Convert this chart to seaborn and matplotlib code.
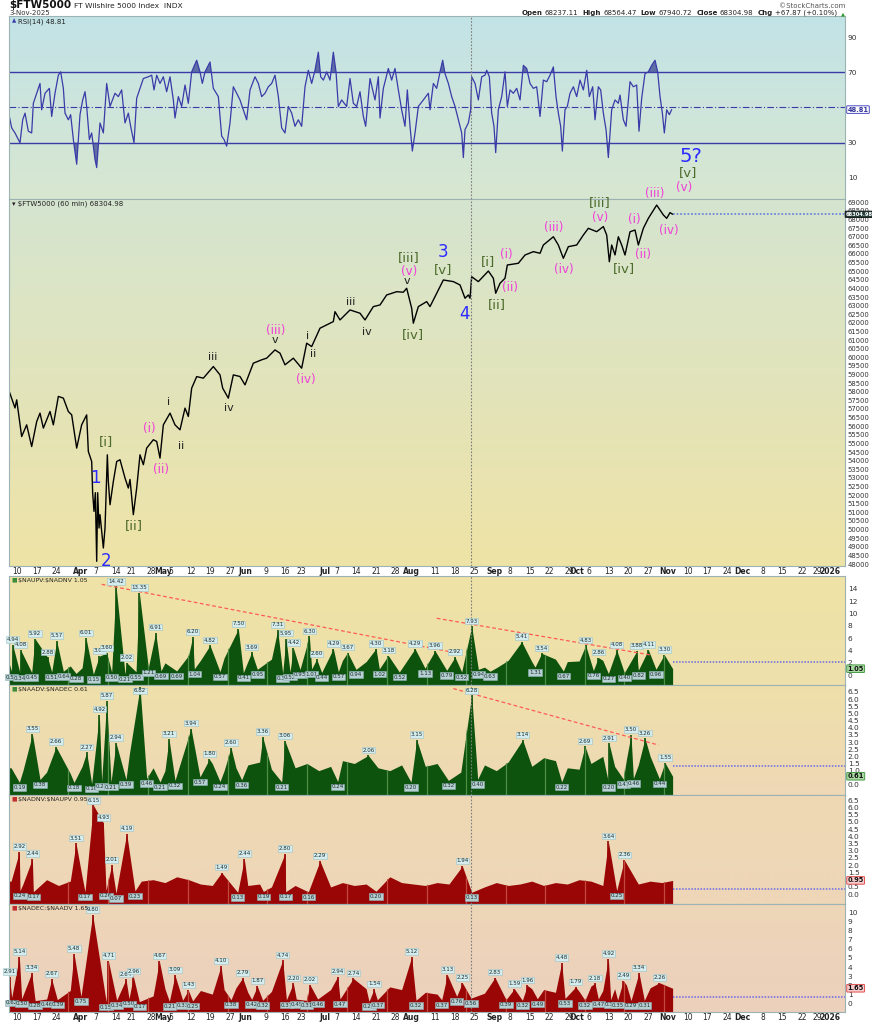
import numpy as np
import pandas as pd
import matplotlib
matplotlib.use("Agg")
import matplotlib.pyplot as plt
from matplotlib.colors import LinearSegmentedColormap
import matplotlib.transforms as mtransforms
import seaborn as sns

sns.set_theme(style="white")
plt.rcParams["font.family"] = ["DejaVu Sans"]

# ------------------------------------------------------------------ data
# x values are trading-session indices (0 = 10-Mar-2025)
price_day = [-1.94,-0.51,-0.08,1.18,2.45,3.72,4.99,5.83,6.68,8.37,
             9.21,10.48,11.75,13.01,13.86,15.13,16.39,17.66,18.08,18.93,
             19.18,19.52,19.86,20.2,20.45,20.79,21.04,21.89,22.31,22.9,
             23.15,23.58,24.42,25.27,26.11,27.38,28.22,28.65,29.49,30.34,
             31.18,32.03,32.87,34.56,35.41,36.25,37.1,38.79,40.05,41.32,
             42.59,43.43,44.28,45.55,47.24,49.77,51.46,52.14,53.57,54.84,
             56.53,57.8,59.91,62.02,63.29,65.4,66.67,67.94,70.05,72.16,
             73.43,74.7,76.81,80.19,80.61,81.88,84.42,86.95,88.22,90.33,
             92.02,93.71,96.25,97.94,98.78,100.05,100.47,101.74,103.85,104.7,
             106.39,108.08,110.62,112.31,113.57,114.42,114.84,115.26,116.95,119.49,
             120.76,121.35,122.45,123.71,124.3,127.09,128.78,130.9,132.59,133.43,
             135.97,137.23,138.5,139.77,141.88,143.57,144.84,146.95,148.64,149.49,
             150.16,150.75,151.6,152.44,153.29,154.13,155.4,156.67,157.51,158.78,
             160.05,162.16,163.01,163.85,164.7,165.54,166.22]
price_val = [58000,57060,57530,55400,56080,54820,56270,56760,55890,56855,
             56080,57730,57630,56855,56660,54730,56080,56660,54535,53950,
             52120,51055,52140,48155,52140,50090,50865,48930,50090,54340,
             52795,51440,52795,53950,54055,52990,52410,52910,50865,52410,
             54340,53765,54730,55215,55115,54150,56080,56760,56080,55790,
             57050,56565,58210,58880,58790,59465,58980,58210,57630,58980,
             58885,58400,59660,59855,59950,60430,60240,59565,59950,59370,
             60820,60625,61690,62075,62650,62170,62750,62560,62170,62945,
             63040,63620,63810,63780,64010,62850,61980,62945,63235,62945,
             63720,64490,64395,64200,63430,63620,63430,64680,64395,65010,
             64590,63720,64300,64590,65360,65460,65940,66135,66040,66520,
             67000,66520,65750,66425,66520,67100,67490,67295,67590,67100,
             65550,66520,65945,67000,66520,65940,67290,67390,66520,67490,
             68070,68840,68550,68265,68070,68400,68305]
price_close = 68304.98

rsi_day = [-1.94,-1.35,-0.51,0.76,1.44,2.03,2.87,3.72,4.14,4.99,
           5.83,6.25,7.10,8.20,8.79,9.63,10.48,11.07,11.75,12.17,
           13.01,13.60,14.28,15.13,15.97,16.65,17.24,17.66,18.34,18.93,
           19.77,20.20,21.04,21.89,22.73,23.58,24.84,25.69,26.53,27.38,
           28.22,28.81,29.66,30.34,31.18,32.03,33.29,34.14,34.73,35.41,
           36.25,37.10,37.94,38.79,39.63,40.05,40.90,41.74,42.59,43.43,
           44.28,45.55,46.39,46.98,47.66,48.93,49.77,51.04,51.88,52.47,
           53.15,54.00,54.84,55.69,56.53,57.38,58.22,59.07,60.33,61.18,
           62.02,62.87,63.71,64.56,65.40,66.25,67.09,67.94,68.78,69.63,
           70.47,71.32,72.16,73.01,73.85,74.70,75.54,76.39,76.98,77.66,
           78.50,79.35,80.19,80.87,81.46,82.30,83.57,84.42,85.26,86.11,
           86.95,87.80,88.39,89.49,90.75,91.60,92.02,92.87,94.13,94.98,
           95.82,96.67,97.51,98.36,98.95,99.63,100.22,100.90,101.74,103.01,
           104.27,
           104.70,105.55,106.39,107.24,107.91,108.50,109.35,110.19,111.04,111.88,
           112.73,113.15,113.57,114.42,115.01,115.26,116.11,116.95,117.80,118.64,
           119.07,119.74,120.33,120.92,121.35,122.02,122.87,123.71,124.30,124.98,
           125.83,126.67,127.52,128.36,129.21,130.05,130.90,131.74,132.59,133.43,
           134.28,135.12,135.97,136.64,137.23,137.82,138.25,138.92,139.51,140.19,
           141.04,141.88,142.73,143.57,144.42,145.09,145.94,146.53,147.37,147.96,
           148.64,149.32,149.91,150.75,151.60,152.44,152.87,153.71,154.39,155.40,
           156.25,157.09,157.68,158.36,159.20,160.05,160.89,161.74,162.41,163.01,
           163.60,164.10,164.70,165.37,165.96]
rsi_val = [44.9,38.4,35.5,29.9,43,46.8,36.5,35.5,52.4,58.1,
           63.7,48.7,58.1,60.9,44.9,58.1,68.4,70.3,60.9,46.8,
           43,45.9,31.8,17.7,45.9,54.3,59,50.6,31.8,35.5,
           20.5,15.8,41.2,35.5,63.7,50.6,58.1,56.2,60,41.2,
           46.8,39.3,29.9,55.3,60.9,66.5,67.5,68.4,60,68.4,
           63.7,67.5,59,67.5,54.3,44,56.2,50.6,62.8,52.4,
           70.3,76.9,70.3,63.7,70.3,75.9,60.9,56.2,33.7,31.8,
           28,41.2,61.8,58.1,54.3,48.7,43,60,67.5,63.7,
           56.2,58.1,61.8,63.7,68.4,56.2,38.4,35.5,50.6,46.8,
           39.3,43,39.3,61.8,71.2,63.7,71.2,81.5,67.5,65.6,
           70.3,65.6,81.5,70.3,50.6,54.3,50.6,66.5,52.4,50.6,
           59,44.9,39.3,66.5,54.3,67.5,44,60.9,72.2,65.6,
           72.2,60,48.7,39.3,60,39.3,25.2,35.5,50.6,54.3,
           58.1,
           48.7,63.7,60.9,70.3,76.9,69.3,63.7,56.2,50.6,43,
           35.5,21.5,37.4,41.2,48.7,67.5,63.7,54.3,67.5,68.4,
           71.2,67.5,46.8,39.3,24.3,48.7,56.2,70.3,50.6,60,
           58.1,60.9,54.3,74,72.2,63.7,60.9,61.8,44.9,65.6,
           64.7,68.4,73.1,56.2,46.8,39.3,25.2,48.7,50.6,58.1,
           61.8,56.2,65.6,60,71.2,56.2,61.8,43,61.8,60,
           46.8,37.4,21.5,48.7,54.3,52.4,57.1,43,39.3,64.7,
           61.8,62.8,36.5,55.3,69.3,70.3,74,76.9,70.3,56.2,
           46.8,35.5,48.7,45.9,48.81]
rsi_last = 48.81

# --- breadth panels: labelled peaks / troughs + background bar level every 3 sessions
h1_peak_day = [-1.1,0.93,4.56,7.77,10.06,17.49,20.87,22.73,25.1,27.8,31.01,35.15,44.53,48.93,56.11,
               59.49,66.08,68.19,70.05,74.11,75.97,80.19,83.82,91.01,94.13,100.9,105.97,111.04,115.26,
               127.94,133.01,144.16,147.37,152.02,157.09,160.05,164.1]
h1_peak_val = [4.94,4.08,5.92,2.88,5.57,6.01,3.08,3.60,14.42,2.02,13.35,6.91,6.20,4.82,7.50,
               3.69,7.31,5.95,4.42,6.30,2.60,4.29,3.67,4.30,3.18,4.29,3.96,2.92,7.93,
               5.41,3.54,4.83,2.86,4.08,3.88,4.11,3.30]
h1_trough_day = [-1.35,0.76,3.72,8.79,11.75,14.96,19.35,24.0,27.38,30.17,33.29,36.5,40.48,44.95,51.46,
                 57.38,60.92,67.35,69.21,71.74,74.7,77.23,81.46,85.94,91.85,96.92,103.43,108.93,112.73,
                 116.95,119.91,131.32,138.5,146.11,149.91,153.96,157.51,161.99]
h1_trough_val = [0.55,0.34,0.45,0.51,0.64,0.28,0.15,0.50,0.21,0.55,1.21,0.69,0.69,1.04,0.57,
                 0.41,0.95,0.31,0.52,0.93,1.01,0.44,0.57,0.94,1.02,0.52,1.13,0.79,0.52,
                 0.94,0.63,1.31,0.67,0.76,0.27,0.40,0.82,0.96]
h1_bg = [2.0,1.8,2.2,1.6,2.4,1.5,1.2,1.8,
         1.4,2.2,2.8,2.5,3.0,2.0,2.6,3.2,
         2.4,2.2,2.8,3.0,2.2,3.4,2.6,2.9,
         3.2,2.2,2.5,2.0,2.4,1.8,2.2,2.6,
         1.9,2.3,2.1,2.0,2.4,1.8,1.4,1.6,
         1.3,1.2,2.4,2.8,2.2,1.8,2.6,2.2,
         2.3,2.0,2.4,1.8,1.6,2.2,2.6,2.0]

h2_peak_day = [3.89,9.89,17.66,20.87,22.73,25.1,31.18,38.53,44.11,48.76,54.25,62.28,67.94,89.06,101.32,
               115.26,128.19,143.99,150.08,155.65,159.2,164.27]
h2_peak_val = [3.55,2.66,2.27,4.92,5.87,2.94,6.82,3.21,3.94,1.80,2.60,3.36,3.06,2.06,3.15,
               6.28,3.14,2.69,2.91,3.50,3.26,1.55]
h2_trough_day = [0.59,5.83,14.45,18.93,21.46,23.83,27.63,32.87,36.25,40.05,46.39,51.46,56.95,67.09,81.29,
                 99.88,109.35,116.78,138.08,149.91,153.71,156.25,162.84]
h2_trough_val = [0.19,0.38,0.18,0.10,0.27,0.21,0.39,0.46,0.21,0.32,0.57,0.24,0.36,0.21,0.24,
                 0.20,0.32,0.40,0.22,0.20,0.41,0.46,0.44]
h2_bg = [1.2,1.0,1.4,0.9,1.1,0.8,1.3,1.0,
         1.5,1.8,2.2,1.5,1.2,1.0,1.4,1.1,
         1.3,1.5,1.0,1.2,1.4,1.6,1.1,1.3,
         1.2,1.5,1.0,1.3,1.7,1.5,1.8,1.2,
         1.0,1.4,1.1,1.3,1.5,1.0,0.9,1.2,
         1.4,1.0,1.6,1.5,1.3,1.9,1.7,1.2,
         1.1,1.5,2.0,1.3,1.8,1.4,2.0,1.3]

h3_peak_day = [0.59,3.89,14.96,19.35,21.89,24.0,27.8,51.88,57.63,67.94,76.81,112.9,149.91,153.96]
h3_peak_val = [2.92,2.44,3.51,6.15,4.93,2.01,4.19,1.49,2.44,2.80,2.29,1.94,3.64,2.36]
h3_trough_day = [0.76,4.14,17.24,22.56,25.1,29.91,55.94,62.45,68.11,73.85,91.01,115.26,152.02]
h3_trough_val = [0.24,0.17,0.17,0.26,0.07,0.23,0.13,0.19,0.17,0.16,0.20,0.13,0.25]
h3_bg = [0.9,0.7,0.8,1.0,0.6,0.9,1.2,1.4,
         1.0,0.8,1.1,0.9,1.0,0.8,1.2,1.0,
         0.7,0.6,0.8,0.9,0.6,0.7,0.5,0.8,
         0.6,0.9,0.7,0.5,0.8,0.6,0.7,0.5,
         1.2,0.8,0.7,0.6,0.8,0.7,0.6,0.9,
         0.5,0.8,0.6,0.7,0.9,0.6,0.8,0.7,
         1.0,0.9,0.6,0.7,0.8,0.7,0.9,0.8]

h4_peak_day = [-1.9,0.59,3.72,8.79,14.45,19.18,23.15,27.63,29.49,36.08,40.05,43.43,51.71,57.21,60.92,
               67.35,70.05,74.28,81.29,85.26,90.5,100.05,109.09,112.9,121.18,126.08,129.37,138.08,141.63,
               146.53,149.91,153.71,157.68,162.84]
h4_peak_val = [2.91,5.14,3.34,2.67,5.48,9.80,4.71,2.64,2.96,4.67,3.09,1.43,4.10,2.79,1.87,
               4.74,2.20,2.02,2.94,2.74,1.54,5.12,3.13,2.25,2.83,1.59,1.96,4.48,1.79,
               2.18,4.92,2.49,3.34,2.26]
h4_trough_day = [-1.35,1.18,4.6,7.52,10.22,16.22,22.6,25.27,28.4,31.01,38.62,42.0,44.53,54.25,59.49,
                 62.28,68.3,70.8,73.4,76.22,81.88,89.23,91.35,101.15,107.66,111.46,115.09,123.97,128.11,
                 131.91,138.92,143.99,147.37,150.5,152.27,155.65,159.03]
h4_trough_val = [0.62,0.50,0.28,0.46,0.39,0.75,0.15,0.34,0.50,0.17,0.21,0.33,0.25,0.38,0.42,
                 0.32,0.37,0.45,0.31,0.46,0.47,0.20,0.37,0.32,0.37,0.76,0.56,0.39,0.32,
                 0.49,0.53,0.32,0.47,0.39,0.35,0.29,0.31]
h4_bg = [1.5,1.2,1.8,1.0,1.6,1.4,2.0,2.5,
         1.8,1.5,1.2,1.0,0.8,1.6,1.2,1.8,
         1.4,1.0,1.5,1.7,1.2,1.6,1.3,1.8,
         1.1,1.4,1.2,1.5,1.0,1.3,1.6,1.2,
         1.8,1.5,1.4,1.2,1.0,1.5,1.3,1.6,
         1.1,1.4,1.7,1.2,1.6,1.5,1.2,1.8,
         1.3,1.9,1.4,1.6,2.0,1.5,1.7,1.6]

panel_names = [r"\$NAUPV:\$NADNV", r"\$NAADV:\$NADEC", r"\$NADNV:\$NAUPV", r"\$NADEC:\$NAADV"]
panel_last = [1.05, 0.61, 0.95, 1.65]
panel_ref = [2.2, 1.30, 0.39, 0.65]

trend1a_day, trend1a_val = [21.47, 109.8], [14.75, 3.8]
trend1b_day, trend1b_val = [106.4, 160.5], [9.24, 3.29]
trend2_day, trend2_val = [110.6, 162.6], [6.73, 2.79]

grid_days = [13.0, 23.15, 33.3, 43.4, 53.6, 63.3, 73.4, 83.6, 93.7, 103.9,
             113.8, 124.0, 133.9, 144.0, 154.0, 164.1]
marker_day = 115.1

wave_text = ["1","2","[i]","[ii]","(i)","(ii)","i","ii","iii","iv",
             "(iii)","v","(iv)","i","ii","iii","iv","[iii]","(v)","v",
             "[iv]","3","[v]","4","[i]","(i)","(ii)","[ii]","(iii)","(iv)",
             "[iii]","(v)","[iv]","(i)","(ii)","(iii)","(iv)","5?","[v]","(v)"]
wave_day = [19.77,22.56,22.56,29.66,33.46,36.43,38.46,41.57,49.61,53.67,
            65.48,65.4,73.26,73.77,75.11,84.6,88.65,99.37,99.37,98.94,
            100.46,108.07,108.07,113.39,119.48,123.96,124.98,121.6,135.95,138.66,
            147.61,147.79,153.87,156.41,158.62,161.73,165.28,170.86,170.02,169.16]
wave_price = [52975,48174,55101,50206,55878,53515,57388,54868,60001,57075,
              61586,61005,58723,61237,60192,63229,61487,65783,64971,64431,
              61336,66097,65069,62497,65551,65981,64065,63078,67525,65110,
              69000,68106,65127,68030,65981,69523,67392,71688,70719,69871]
wave_kind = ["n","n","g","g","m","m","k","k","k","k",
             "m","k","m","k","k","k","k","g","m","k",
             "g","n","g","n","g","m","m","g","m","m",
             "g","m","g","m","m","m","m","n","g","m"]

tick_dates = ["2025-03-10","2025-03-17","2025-03-24","2025-04-01","2025-04-07","2025-04-14","2025-04-21",
              "2025-04-28","2025-05-01","2025-05-05","2025-05-12","2025-05-19","2025-05-27","2025-06-02",
              "2025-06-09","2025-06-16","2025-06-23","2025-07-01","2025-07-07","2025-07-14","2025-07-21",
              "2025-07-28","2025-08-01","2025-08-11","2025-08-18","2025-08-25","2025-09-02","2025-09-08",
              "2025-09-15","2025-09-22","2025-09-29","2025-10-01","2025-10-06","2025-10-13","2025-10-20",
              "2025-10-27","2025-11-03","2025-11-10","2025-11-17","2025-11-24","2025-12-01","2025-12-08",
              "2025-12-15","2025-12-22","2025-12-29","2026-01-02"]
tick_labels = ["10","17","24","Apr","7","14","21","28","May","5","12","19","27","Jun","9","16","23",
               "Jul","7","14","21","28","Aug","11","18","25","Sep","8","15","22","29","Oct","6","13",
               "20","27","Nov","10","17","24","Dec","8","15","22","29","2026"]
holidays = ["2025-04-18","2025-05-26","2025-06-19","2025-07-04","2025-09-01",
            "2025-11-27","2025-12-25","2026-01-01"]

# ------------------------------------------------------------------ layout
W, H = 872, 1024
X0, X1 = -2.03, 209.9
fig = plt.figure(figsize=(W/100, H/100), dpi=100)
fig.patch.set_facecolor("white")

def px_axes(top, bottom, left=9, right=845, z=1):
    a = fig.add_axes([left/W, 1-bottom/H, (right-left)/W, (bottom-top)/H])
    a.set_zorder(z)
    return a

ax_rsi = px_axes(16, 199, z=1)
ax_px = px_axes(199, 566, z=3)
ax_h = [px_axes(576, 685, z=2), px_axes(685, 795, z=2), px_axes(795, 904, z=2), px_axes(904, 1012, z=2)]

def gradient(ax, top, bottom):
    cmap = LinearSegmentedColormap.from_list("g", [bottom, top])
    ax.imshow(np.linspace(0, 1, 256).reshape(-1, 1), cmap=cmap, origin="lower", aspect="auto",
              extent=[0, 1, 0, 1], transform=ax.transAxes, zorder=-10, interpolation="bilinear")

def style(ax, ylim, yticks):
    ax.set_xlim(X0, X1)
    ax.set_ylim(*ylim)
    ax.yaxis.tick_right()
    ax.set_yticks(yticks)
    ax.tick_params(axis="y", length=0, pad=2, labelsize=5.3, labelcolor="#333333")
    ax.tick_params(axis="x", length=0, labelbottom=False)
    ax.set_xlabel("")
    ax.set_ylabel("")
    ax.grid(False)
    for s in ax.spines.values():
        s.set_color("#9db3b3")
        s.set_linewidth(0.8)

sessions = pd.bdate_range("2025-03-10", "2026-01-30")
sessions = sessions[~sessions.isin(pd.to_datetime(holidays))]
sess_idx = {d: i for i, d in enumerate(sessions)}
tick_pos = [sess_idx[pd.Timestamp(t)] for t in tick_dates]

def xlabels(ax):
    ax.set_xticks(tick_pos)
    ax.set_xticklabels(tick_labels)
    ax.tick_params(axis="x", length=0, pad=1.0, labelsize=5.5, labelbottom=True, labelcolor="#222222")
    for lab in ax.get_xticklabels():
        if not lab.get_text().isdigit() or lab.get_text() == "2026":
            lab.set_fontweight("bold")

def value_box(ax, y, s, fc, ec, tc="#111111", size=4.8, x=1.003):
    tr = mtransforms.blended_transform_factory(ax.transAxes, ax.transData)
    ax.text(x, y, s, transform=tr, ha="left", va="center", fontsize=size, color=tc,
            fontweight="bold", zorder=20, clip_on=False,
            bbox=dict(boxstyle="round,pad=0.12", fc=fc, ec=ec, lw=0.7))

# ------------------------------------------------------------------ RSI
gradient(ax_rsi, "#c2e3e7", "#d8e7d0")
sns.lineplot(x=rsi_day, y=rsi_val, ax=ax_rsi, color="#3a3aa8", lw=0.9, sort=False, estimator=None)
rd, rv = np.array(rsi_day), np.array(rsi_val)
ax_rsi.fill_between(rd, 70, rv, where=rv > 70, interpolate=True, color="#4b5a9c", alpha=0.85, lw=0)
ax_rsi.fill_between(rd, 30, rv, where=rv < 30, interpolate=True, color="#4b5a9c", alpha=0.85, lw=0)
for lvl in (70, 30):
    ax_rsi.axhline(lvl, color="#3b3ba8", lw=1.0, zorder=1)
ax_rsi.axhline(50, color="#3b3ba8", lw=0.8, ls=(0, (6, 2, 1, 2)), zorder=1)
style(ax_rsi, (-2.1, 102.1), [10, 30, 70, 90])
value_box(ax_rsi, rsi_last, f"{rsi_last:.2f}", "white", "#4b4bc0", "#333399")
ax_rsi.text(0.004, 0.985, "\u25B2", transform=ax_rsi.transAxes, va="top", fontsize=4, color="#3b3ba8")
ax_rsi.text(0.011, 0.985, f"RSI(14) {rsi_last:.2f}", transform=ax_rsi.transAxes, va="top",
            fontsize=5.0, color="#222222")

# ------------------------------------------------------------------ price
gradient(ax_px, "#d5e5d0", "#efe3a6")
sns.lineplot(x=price_day, y=price_val, ax=ax_px, color="black", lw=1.0, sort=False, estimator=None)
ax_px.hlines(price_close, price_day[-1], X1, color="#7088d8", lw=1.3, ls=(0, (1, 1)))
style(ax_px, (47884, 69192), np.arange(48000, 69001, 500))
ax_px.set_yticklabels([f"{v:d}" for v in np.arange(48000, 69001, 500)])
ax_px.tick_params(axis="y", labelsize=4.9)
xlabels(ax_px)
value_box(ax_px, price_close, f"{price_close:.2f}", "#24403a", "#111111", "white", size=3.7, x=1.001)
ax_px.text(0.004, 0.995, "\u25BE $FTW5000 (60 min) 68304.98", transform=ax_px.transAxes, va="top",
           fontsize=5.0, color="#222222")

kind_style = {"n": ("#2b2bff", 12), "g": ("#4d6b2c", 9.5), "m": ("#f03cd8", 8.5), "k": ("#222222", 8)}
for t, d, p, k in zip(wave_text, wave_day, wave_price, wave_kind):
    c, s = kind_style[k]
    if t == "5?":
        s = 14
    ax_px.text(d, p, t, color=c, fontsize=s, ha="center", va="center", zorder=10, clip_on=False)

# ------------------------------------------------------------------ breadth panels
def build(pk_d, pk_v, tr_d, tr_v, bg_v, last_v):
    bg_d = np.arange(-1.5, 165.0, 3.0)
    lab = np.array(pk_d + tr_d)
    keep = [i for i, d in enumerate(bg_d) if np.min(np.abs(lab - d)) > 0.7]
    d = np.concatenate([[X0], bg_d[keep], pk_d, tr_d, [166.2]])
    v = np.concatenate([[bg_v[0]], np.array(bg_v)[keep], pk_v, tr_v, [last_v]])
    o = np.argsort(d, kind="stable")
    return d[o], v[o]

panels = [
    (h1_peak_day, h1_peak_val, h1_trough_day, h1_trough_val, h1_bg, (-1.6, 16.1), np.arange(0, 15, 2),
     "#0d530d", "#4f8f45", ("#eee3a6", "#efe0ab"), ("#a8d9a0", "#4a9a4a"), "#3c8c3c"),
    (h2_peak_day, h2_peak_val, h2_trough_day, h2_trough_val, h2_bg, (-0.70, 6.98),
     [0.0] + list(np.arange(1.0, 6.6, 0.5)),
     "#0d530d", "#4f8f45", ("#eee0aa", "#efd8b6"), ("#a8d9a0", "#4a9a4a"), "#3c8c3c"),
    (h3_peak_day, h3_peak_val, h3_trough_day, h3_trough_val, h3_bg, (-0.68, 6.85),
     [0.0, 0.5] + list(np.arange(1.5, 6.6, 0.5)),
     "#9a0606", "#c24a3c", ("#eed9b3", "#eed6b8"), ("#f7cccc", "#e05050"), "#c03030"),
    (h4_peak_day, h4_peak_val, h4_trough_day, h4_trough_val, h4_bg, (-0.98, 10.98), list(range(0, 11)),
     "#9a0606", "#c24a3c", ("#eed6b8", "#ecd0bc"), ("#f7cccc", "#e05050"), "#c03030"),
]

for i, (ax, P) in enumerate(zip(ax_h, panels)):
    pk_d, pk_v, tr_d, tr_v, bg_v, ylim, yt, col, gcol, grad, vb, icol = P
    gradient(ax, grad[0], grad[1])
    d, v = build(pk_d, pk_v, tr_d, tr_v, bg_v, panel_last[i])
    poly = ax.fill_between(d, ylim[0], v, color=col, lw=0, zorder=2)
    ax.vlines(pk_d, ylim[0], pk_v, color=col, lw=1.2, zorder=2)
    gl = ax.vlines(grid_days, ylim[0], ylim[1], color=gcol, lw=0.9, zorder=3)
    gl.set_clip_path(poly.get_paths()[0], transform=ax.transData)
    ax.hlines(panel_ref[i], 166.2, X1, color="#6a6ae6", lw=1.1, ls=(0, (1, 1)), zorder=4)
    style(ax, ylim, yt)
    ax.set_yticklabels([f"{t:.1f}" if i in (1, 2) else f"{int(t)}" for t in yt])
    span = ylim[1] - ylim[0]
    for pd_, pv in zip(pk_d, pk_v):
        yy = min(pv, ylim[1] - 0.10 * span)
        ax.annotate(f"{pv:.2f}", (pd_, yy), xytext=(0, 2.0), textcoords="offset points", ha="center",
                    va="bottom", fontsize=4.0, color="#1e2e2e", zorder=8, annotation_clip=False,
                    bbox=dict(boxstyle="square,pad=0.12", fc="#d4ecee", ec="#9fc3c6", lw=0.4))
    for td, tv in zip(tr_d, tr_v):
        ax.annotate(f"{tv:.2f}", (td, tv), xytext=(0, -2.0), textcoords="offset points", ha="center",
                    va="top", fontsize=4.0, color="#1e2e2e", zorder=8, annotation_clip=False,
                    bbox=dict(boxstyle="square,pad=0.12", fc="#b7d0d3", ec="#8eb0b4", lw=0.4))
    value_box(ax, panel_last[i], f"{panel_last[i]:.2f}", vb[0], vb[1])
    ax.text(0.003, 0.985, "\u25A0", transform=ax.transAxes, va="top", fontsize=4.2, color=icol, zorder=9)
    ax.text(0.011, 0.985, f"{panel_names[i]} {panel_last[i]:.2f}", transform=ax.transAxes, va="top",
            fontsize=4.5, color="#222222", zorder=9)

ax_h[0].plot(trend1a_day, trend1a_val, color="#ff5a5a", lw=0.9, ls=(0, (3, 2)), zorder=5)
ax_h[0].plot(trend1b_day, trend1b_val, color="#ff5a5a", lw=0.9, ls=(0, (3, 2)), zorder=5)
ax_h[1].plot(trend2_day, trend2_val, color="#ff5a5a", lw=0.9, ls=(0, (3, 2)), zorder=5)
xlabels(ax_h[3])

for ax in [ax_rsi, ax_px] + ax_h:
    ax.axvline(marker_day, color="#7d7d7d", lw=0.8, ls=(0, (1.5, 1.5)), zorder=6)

# ------------------------------------------------------------------ header
def chain_left(prev, s, size, weight="normal", gap=2.0, color="#222222"):
    return ax_rsi.annotate(s, xy=(0, 0), xycoords=prev, xytext=(-gap, 0), textcoords="offset points",
                           fontsize=size, fontweight=weight, va="bottom", ha="right", color=color)

def chain_right(prev, s, size, weight="normal", gap=2.0, color="#222222"):
    return ax_rsi.annotate(s, xy=(1, 0), xycoords=prev, xytext=(gap, 0), textcoords="offset points",
                           fontsize=size, fontweight=weight, va="bottom", ha="left", color=color)

t = fig.text(9/W, 1-9.5/H, "$FTW5000", fontsize=7.5, fontweight="bold", va="bottom", color="#111111")
chain_right(t, "FT Wilshire 5000 Index  INDX", 5.4)
fig.text(9/W, 1-16/H, "3-Nov-2025", fontsize=5.0, va="bottom", color="#333333")
fig.text(845/W, 1-8.5/H, "\u00A9StockCharts.com", fontsize=5.0, ha="right", va="bottom", color="#555555")
pieces = [("Open", "bold"), ("68237.11", "normal"), ("High", "bold"), ("68564.47", "normal"),
          ("Low", "bold"), ("67940.72", "normal"), ("Close", "bold"), ("68304.98", "normal"),
          ("Chg", "bold"), ("+67.87 (+0.10%)", "normal")]
t = fig.text(845/W, 1-16/H, "\u25B2", fontsize=3.8, ha="right", va="bottom", color="#2a9a2a")
for s, w in reversed(pieces):
    t = chain_left(t, s, 5.0, w, gap=(1.5 if w == "bold" else 3.0))

fig.savefig("out.png", dpi=100, facecolor="white")
